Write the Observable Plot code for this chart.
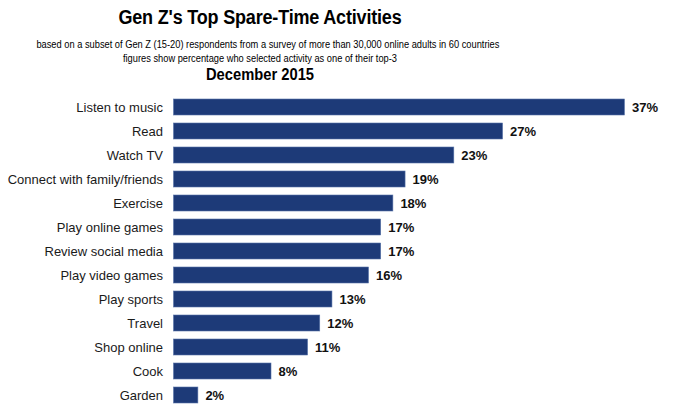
<!DOCTYPE html>
<html>
<head>
<meta charset="utf-8">
<script src="https://cdn.jsdelivr.net/npm/d3@7"></script>
<script src="https://cdn.jsdelivr.net/npm/@observablehq/plot@0.6"></script>
<style>
  html, body { margin: 0; padding: 0; background: #fff; }
  #wrap { width: 675px; height: 409px; position: relative; overflow: hidden; font-family: "Liberation Sans", Arial, sans-serif; }
  #head { position: relative; width: 675px; height: 84px; }
  .t { position: absolute; left: 0; width: 520px; text-align: center; color: #000; white-space: nowrap; transform-origin: 260px 50%; }
  #title { top: 6px; font-size: 20px; font-weight: bold; letter-spacing: -0.2px; transform: scaleX(0.9); }
  #sub1 { top: 38px; font-size: 10.8px; transform: scaleX(0.86); }
  #sub2 { top: 52px; font-size: 10.8px; transform: scaleX(0.86); }
  #date { top: 66px; font-size: 16px; font-weight: bold; transform: scaleX(0.92); }
</style>
</head>
<body>
<div id="wrap">
  <div id="head">
    <div class="t" id="title">Gen Z's Top Spare-Time Activities</div>
    <div class="t" id="sub1">based on a subset of Gen Z (15-20) respondents from a survey of more than 30,000 online adults in 60 countries</div>
    <div class="t" id="sub2">figures show percentage who selected activity as one of their top-3</div>
    <div class="t" id="date">December 2015</div>
  </div>
  <div id="chart"></div>
</div>
<script>
const activities = ["Listen to music", "Read", "Watch TV", "Connect with family/friends", "Exercise", "Play online games", "Review social media", "Play video games", "Play sports", "Travel", "Shop online", "Cook", "Garden"];
const shares = [37, 27, 23, 19, 18, 17, 17, 16, 13, 12, 11, 8, 2];

const data = activities.map((a, i) => ({activity: a, value: shares[i]}));

const chart = Plot.plot({
  width: 675,
  height: 325,
  marginTop: 9.5,
  marginBottom: 0,
  marginLeft: 173.5,
  marginRight: 14,
  style: {fontFamily: "Liberation Sans, Arial, sans-serif", fontSize: "13px", color: "#1a1a1a", background: "#fff"},
  x: {domain: [0, 40], axis: null},
  y: {domain: activities, paddingInner: 0.35, paddingOuter: 0.1, label: null, tickSize: 0, tickPadding: 11},
  marks: [
    Plot.barX(data, {x: "value", y: "activity", fill: "#1d3a78", stroke: "#5873a8", strokeWidth: 0.6}),
    Plot.text(data, {x: "value", y: "activity", text: d => d.value + "%", textAnchor: "start", dx: 7, fontWeight: "bold", fontSize: 13, fill: "#111"})
  ]
});
document.getElementById("chart").appendChild(chart);
</script>
</body>
</html>
